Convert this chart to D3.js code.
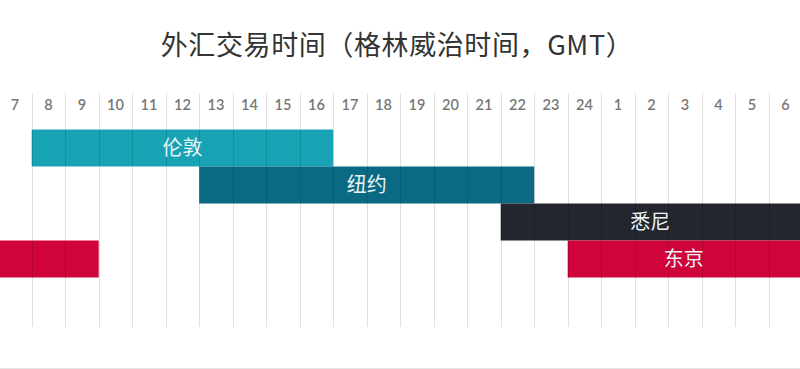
<!DOCTYPE html>
<html>
<head>
<meta charset="utf-8">
<script src="https://cdn.jsdelivr.net/npm/d3@7"></script>
<style>
  html, body { margin: 0; padding: 0; background: #fff; }
  svg { display: block; }
</style>
</head>
<body>
<svg id="chart" width="800" height="369"></svg>
<script>
// ---- data ----
const title = "外汇交易时间（格林威治时间，GMT）";
const hourLabels = ["7","8","9","10","11","12","13","14","15","16","17","18","19","20","21","22","23","24","1","2","3","4","5","6"];
const sessions = ["伦敦", "纽约", "悉尼", "东京"];
// start hour label and end hour label (inclusive columns)
const sessionStart = ["8", "13", "22", "24"];
const sessionEnd   = ["16", "22", "6", "9"];
const sessionColors = ["#17a3b4", "#0b6a83", "#24262f", "#d0033b"];

// ---- layout ----
const svg = d3.select("#chart");
const W = 800, H = 369;
const x = d3.scaleBand().domain(hourLabels).range([-1.8, 802.2]).paddingInner(0).paddingOuter(0);
const y = d3.scaleBand().domain(sessions).range([129.5, 277.5]).padding(0);
const gridTop = 93, gridBottom = 327;

// bottom border line
svg.append("line").attr("x1", 0).attr("x2", W).attr("y1", 368.5).attr("y2", 368.5)
  .attr("stroke", "#e6e6e6").attr("stroke-width", 1);

// title
svg.append("text").attr("x", 397).attr("y", 55).attr("text-anchor", "middle")
  .attr("font-family", "'Noto Sans CJK SC', sans-serif").attr("font-size", 27)
  .attr("letter-spacing", 0.6)
  .attr("fill", "#333").text(title);

// tick labels via axis
const axis = d3.axisTop(x).tickSize(0).tickPadding(0);
const gAxis = svg.append("g").attr("transform", `translate(0,110)`).call(axis);
gAxis.select(".domain").remove();
gAxis.selectAll("text").attr("font-family", "Lato, sans-serif").attr("font-size", 14.5)
  .attr("fill", "#777").attr("font-weight", 600);

// bars (wrap around the day)
const n = hourLabels.length;
sessions.forEach((s, i) => {
  const a = hourLabels.indexOf(sessionStart[i]);
  const b = hourLabels.indexOf(sessionEnd[i]);
  const segs = [];
  if (b >= a) segs.push([a, b]);
  else { segs.push([a, n - 1]); segs.push([0, b]); }
  segs.forEach(([p, q]) => {
    svg.append("rect")
      .attr("x", Math.max(0, x(hourLabels[p])))
      .attr("y", y(s))
      .attr("width", Math.min(W, x(hourLabels[q]) + x.bandwidth()) - Math.max(0, x(hourLabels[p])))
      .attr("height", y.bandwidth())
      .attr("fill", sessionColors[i]);
  });
});

// grid lines (drawn over bars, subtle)
const bounds = hourLabels.slice(1).map(h => x(h));
svg.append("g").selectAll("line").data(bounds).join("line")
  .attr("x1", d => Math.round(d) + 0.5).attr("x2", d => Math.round(d) + 0.5)
  .attr("y1", gridTop).attr("y2", gridBottom)
  .attr("stroke", "#000").attr("stroke-opacity", 0.12).attr("stroke-width", 1);

// bar labels
sessions.forEach((s, i) => {
  const a = hourLabels.indexOf(sessionStart[i]);
  const b = hourLabels.indexOf(sessionEnd[i]);
  const x0 = Math.max(0, x(hourLabels[a]));
  const x1 = b >= a ? Math.min(W, x(hourLabels[b]) + x.bandwidth()) : W;
  svg.append("text")
    .attr("x", (x0 + x1) / 2).attr("y", y(s) + y.bandwidth() / 2 + 7)
    .attr("text-anchor", "middle")
    .attr("font-family", "'Noto Sans CJK SC', sans-serif").attr("font-size", 20)
    .attr("fill", "#e8f4f6").text(s);
});
</script>
</body>
</html>
